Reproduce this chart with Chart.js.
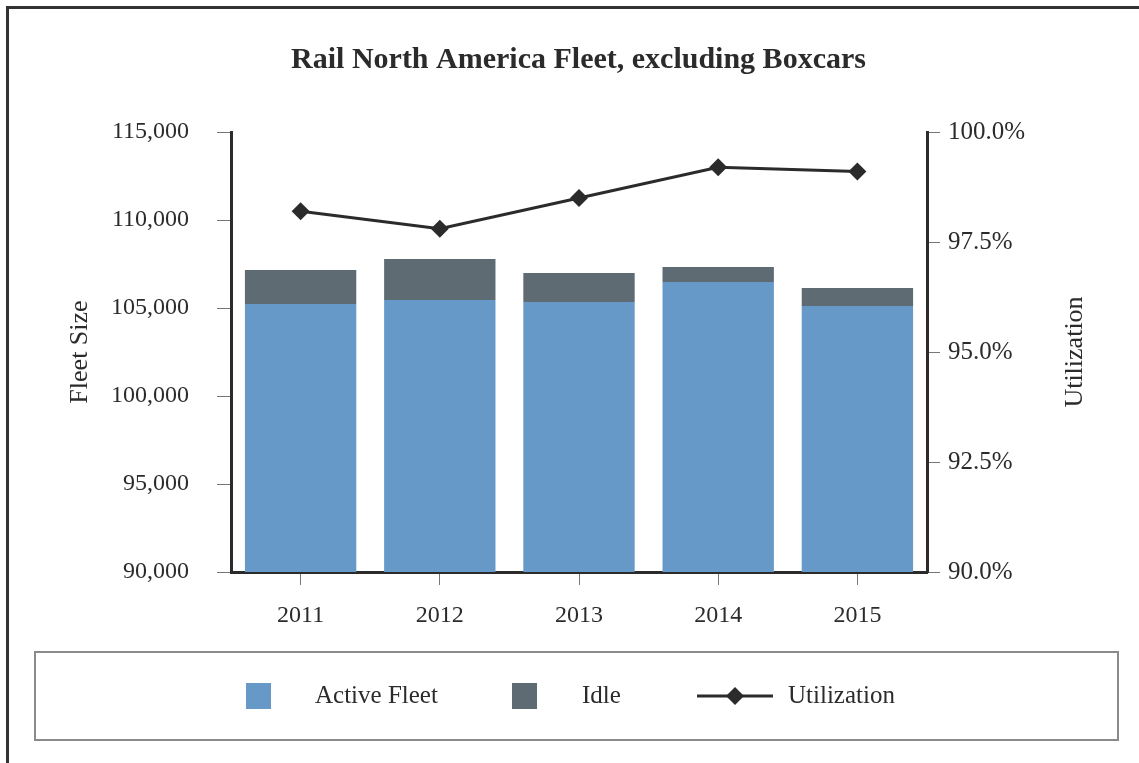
<!DOCTYPE html>
<html>
<head>
<meta charset="utf-8">
<title>Rail North America Fleet, excluding Boxcars</title>
<script src="https://cdn.jsdelivr.net/npm/chart.js@4.4.1/dist/chart.umd.min.js"></script>
<style>
  html, body { margin: 0; padding: 0; background: #fff; overflow: hidden; }
  #wrap { position: relative; width: 1139px; height: 763px; }
  #frame {
    position: absolute; left: 6px; top: 6px; width: 1200px; height: 800px;
    border: 3px solid #333; box-sizing: border-box;
  }
  #chartBox { position: absolute; left: 0; top: 0; width: 1139px; height: 763px; }
  #legend {
    position: absolute; left: 34px; top: 651px; width: 1085px; height: 90px;
    border: 2px solid #8a8a8a; box-sizing: border-box;
    font-family: "Liberation Serif", "Times New Roman", serif; font-size: 25px; color: #2b2b2b;
  }
  #legend .sw { position: absolute; top: 30px; width: 25px; height: 26px; }
  #legend .lbl { position: absolute; top: 28px; line-height: 28px; white-space: nowrap; }
  #legend svg { position: absolute; top: 32px; }
</style>
</head>
<body>
<div id="wrap">
  <div id="frame"></div>
  <div id="chartBox"><canvas id="fleet_chart"></canvas></div>
  <div id="legend">
    <div class="sw" style="left:210px;background:#6799c8"></div>
    <div class="lbl" style="left:279px">Active Fleet</div>
    <div class="sw" style="left:476px;background:#5e6b73"></div>
    <div class="lbl" style="left:546px">Idle</div>
    <svg style="left:660px" width="80" height="22" viewBox="0 0 80 22">
      <line x1="1" y1="11" x2="77" y2="11" stroke="#2b2b2b" stroke-width="3"/>
      <polygon points="39,2 48,11 39,20 30,11" fill="#2b2b2b"/>
    </svg>
    <div class="lbl" style="left:752px">Utilization</div>
  </div>
</div>
<script>
document.addEventListener("DOMContentLoaded", function () {

    // ==== data ====
    const years = ['2011', '2012', '2013', '2014', '2015'];
    const activeFleet = [105230, 105450, 105340, 106480, 105110];
    const idleFleet = [1930, 2330, 1650, 850, 1020];
    const utilization = [98.2, 97.8, 98.5, 99.2, 99.1];

    const fleetTicks = [90000, 95000, 100000, 105000, 110000, 115000];
    const utilTicks = [90.0, 92.5, 95.0, 97.5, 100.0];

    const serif = "'Liberation Serif', 'Times New Roman', serif";
    const ink = '#2b2b2b';

    // axis titles drawn by hand so "Utilization" reads bottom-to-top
    const axisTitles = {
        id: 'axisTitles',
        afterDraw(chart) {
            const ctx = chart.ctx;
            const mid = (chart.chartArea.top + chart.chartArea.bottom) / 2;
            ctx.save();
            ctx.fillStyle = ink;
            ctx.font = '26px ' + serif;
            ctx.textAlign = 'center';
            ctx.textBaseline = 'middle';
            [[80, 'Fleet Size'], [1075, 'Utilization']].forEach(function (t) {
                ctx.save();
                ctx.translate(t[0], mid);
                ctx.rotate(-Math.PI / 2);
                ctx.fillText(t[1], 0, 0);
                ctx.restore();
            });
            ctx.restore();
        }
    };

    var ctx1 = document.getElementById('fleet_chart').getContext('2d');
    window.fleetChart = new Chart(ctx1, {
        type: 'bar',
        data: {
            labels: years,
            datasets: [
                {
                    type: 'line',
                    label: 'Utilization',
                    data: utilization,
                    yAxisID: 'y1',
                    borderColor: ink,
                    backgroundColor: ink,
                    borderWidth: 3,
                    pointStyle: 'rectRot',
                    pointRadius: 9,
                    pointBorderWidth: 0,
                    tension: 0,
                    order: 0
                },
                {
                    label: 'Active Fleet',
                    data: activeFleet,
                    yAxisID: 'y',
                    backgroundColor: '#6799c8',
                    borderWidth: 0,
                    categoryPercentage: 1,
                    barPercentage: 0.8,
                    order: 1
                },
                {
                    label: 'Idle',
                    data: idleFleet,
                    yAxisID: 'y',
                    backgroundColor: '#5e6b73',
                    borderWidth: 0,
                    categoryPercentage: 1,
                    barPercentage: 0.8,
                    order: 1
                }
            ]
        },
        options: {
            responsive: true,
            maintainAspectRatio: false,
            animation: false,
            layout: { padding: { left: 18, right: 0, top: 0, bottom: 0 } },
            scales: {
                x: {
                    stacked: true,
                    grid: { drawOnChartArea: false, offset: false, tickLength: 13, tickColor: '#777', lineWidth: 1 },
                    border: { color: ink, width: 3 },
                    ticks: { color: ink, padding: 16, font: { family: serif, size: 24 } },
                    afterFit: function (scale) { scale.height = 191; }
                },
                y: {
                    stacked: true,
                    position: 'left',
                    min: fleetTicks[0],
                    max: fleetTicks[fleetTicks.length - 1],
                    afterBuildTicks: function (scale) { scale.ticks = fleetTicks.map(v => ({ value: v })); },
                    grid: { drawOnChartArea: false, tickLength: 14, tickColor: '#777', lineWidth: 1 },
                    border: { color: ink, width: 3 },
                    ticks: {
                        color: ink, padding: 28, font: { family: serif, size: 24 },
                        callback: v => v.toLocaleString('en-US')
                    },
                    afterFit: function (scale) { scale.width = 213; }
                },
                y1: {
                    position: 'right',
                    min: utilTicks[0],
                    max: utilTicks[utilTicks.length - 1],
                    afterBuildTicks: function (scale) { scale.ticks = utilTicks.map(v => ({ value: v })); },
                    grid: { drawOnChartArea: false, tickLength: 13, tickColor: '#777', lineWidth: 1 },
                    border: { color: ink, width: 3 },
                    ticks: {
                        color: ink, padding: 8, font: { family: serif, size: 25 },
                        callback: v => v.toFixed(1) + '%'
                    },
                    afterFit: function (scale) { scale.width = 212; }
                }
            },
            plugins: {
                legend: { display: false },
                tooltip: { enabled: false },
                title: {
                    display: true,
                    text: 'Rail North America Fleet, excluding Boxcars',
                    color: ink,
                    font: { family: serif, size: 30, weight: 'bold' },
                    padding: { top: 42, bottom: 54 }
                }
            }
        },
        plugins: [axisTitles]
    });
});
</script>
</body>
</html>
